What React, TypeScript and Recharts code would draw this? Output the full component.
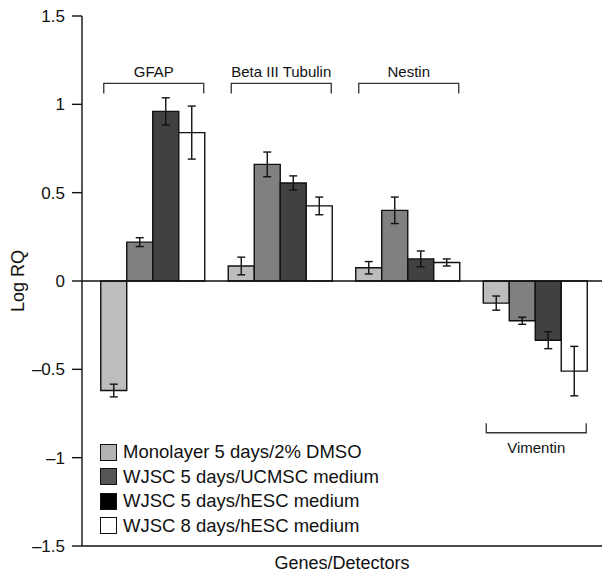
import {
  ComposedChart,
  Bar,
  ErrorBar,
  XAxis,
  YAxis,
  ReferenceLine,
  ReferenceArea,
} from "recharts";

const GENES = ["GFAP", "Beta III Tubulin", "Nestin", "Vimentin"];

const MONOLAYER = [-0.62, 0.085, 0.075, -0.125];
const MONOLAYER_ERR = [0.036, 0.05, 0.035, 0.04];
const WJSC_UCMSC_5 = [0.22, 0.66, 0.4, -0.225];
const WJSC_UCMSC_5_ERR = [0.025, 0.07, 0.075, 0.02];
const WJSC_HESC_5 = [0.96, 0.555, 0.125, -0.335];
const WJSC_HESC_5_ERR = [0.077, 0.04, 0.045, 0.048];
const WJSC_HESC_8 = [0.84, 0.425, 0.105, -0.51];
const WJSC_HESC_8_ERR = [0.15, 0.05, 0.02, 0.14];

const Y_TICKS = [-1.5, -1, -0.5, 0, 0.5, 1, 1.5];

// which side of the bars each gene bracket sits on
const BRACKETS = [
  { gene: "GFAP", side: "top" },
  { gene: "Beta III Tubulin", side: "top" },
  { gene: "Nestin", side: "top" },
  { gene: "Vimentin", side: "bottom" },
];

const SERIES = [
  { key: "s0", err: "e0", name: "Monolayer 5 days/2% DMSO", fill: "#bdbdbd", legend: "#b3b3b3" },
  { key: "s1", err: "e1", name: "WJSC 5 days/UCMSC medium", fill: "#808080", legend: "#555555" },
  { key: "s2", err: "e2", name: "WJSC 5 days/hESC medium", fill: "#414141", legend: "#000000" },
  { key: "s3", err: "e3", name: "WJSC 8 days/hESC medium", fill: "#ffffff", legend: "#ffffff" },
];

const data = GENES.map((gene, i) => ({
  gene,
  s0: MONOLAYER[i],
  e0: MONOLAYER_ERR[i],
  s1: WJSC_UCMSC_5[i],
  e1: WJSC_UCMSC_5_ERR[i],
  s2: WJSC_HESC_5[i],
  e2: WJSC_HESC_5_ERR[i],
  s3: WJSC_HESC_8[i],
  e3: WJSC_HESC_8_ERR[i],
}));

const FONT = "'Liberation Sans', Arial, Helvetica, sans-serif";

const fmtTick = (v: number) => (v < 0 ? `\u2013${Math.abs(v)}` : `${v}`);

function bracketShape(label: string, side: string) {
  return (props: any) => {
    const { x, y, width, height } = props;
    const x1 = x + width * 0.1 + 3;
    const x2 = x + width * 0.9 + 1;
    const cx = (x1 + x2) / 2;
    if (side === "top") {
      return (
        <g>
          <path
            d={`M${x1},${y + height} L${x1},${y} L${x2},${y} L${x2},${y + height}`}
            fill="none"
            stroke="#333"
            strokeWidth={1.3}
          />
          <text x={cx} y={y - 6.5} textAnchor="middle" fontSize={15} fill="#111" fontFamily={FONT}>
            {label}
          </text>
        </g>
      );
    }
    return (
      <g>
        <path
          d={`M${x1},${y} L${x1},${y + height} L${x2},${y + height} L${x2},${y}`}
          fill="none"
          stroke="#333"
          strokeWidth={1.3}
        />
        <text x={cx} y={y + height + 20} textAnchor="middle" fontSize={15} fill="#111" fontFamily={FONT}>
          {label}
        </text>
      </g>
    );
  };
}

function YLabel(props: any) {
  const { viewBox } = props;
  const cx = viewBox.x + 18;
  const cy = viewBox.y + viewBox.height / 2;
  return (
    <text
      x={cx}
      y={cy}
      transform={`rotate(-90, ${cx}, ${cy})`}
      textAnchor="middle"
      dominantBaseline="central"
      fontSize={18}
      fill="#111"
      fontFamily={FONT}
    >
      Log RQ
    </text>
  );
}

export default function App() {
  return (
    <div
      style={{
        position: "absolute",
        left: 0,
        top: 0,
        width: 602,
        height: 572,
        background: "#fff",
        fontFamily: FONT,
      }}
    >
      <ComposedChart
        width={602}
        height={572}
        data={data}
        margin={{ top: 16, right: 0, bottom: 0, left: 0 }}
        barCategoryGap="10%"
        barGap={0}
      >
        <XAxis
          dataKey="gene"
          tick={false}
          tickLine={false}
          axisLine={{ stroke: "#111", strokeWidth: 1.4 }}
          height={26}
          padding={{ left: 6, right: 4 }}
          label={{
            value: "Genes/Detectors",
            position: "insideBottom",
            offset: 3,
            fontSize: 18,
            fill: "#111",
            fontFamily: FONT,
          }}
        />
        <YAxis
          width={82}
          domain={[-1.5, 1.5]}
          ticks={Y_TICKS}
          tickFormatter={fmtTick}
          tick={{ fontSize: 17, fill: "#111", fontFamily: FONT }}
          tickSize={10}
          tickMargin={7}
          tickLine={{ stroke: "#111", strokeWidth: 1.4 }}
          axisLine={{ stroke: "#111", strokeWidth: 1.4 }}
          label={<YLabel />}
        />
        <ReferenceLine y={0} stroke="#111" strokeWidth={1.4} />
        {SERIES.map((s) => (
          <Bar
            key={s.key}
            dataKey={s.key}
            name={s.name}
            fill={s.fill}
            stroke="#111"
            strokeWidth={1.4}
            isAnimationActive={false}
          >
            <ErrorBar
              dataKey={s.err}
              direction="y"
              width={4}
              stroke="#111"
              strokeWidth={1.4}
              isAnimationActive={false}
            />
          </Bar>
        ))}
        {BRACKETS.map((b) => (
          <ReferenceArea
            key={b.gene}
            x1={b.gene}
            x2={b.gene}
            y1={b.side === "top" ? 1.062 : -0.859}
            y2={b.side === "top" ? 1.119 : -0.805}
            shape={bracketShape(b.gene, b.side)}
          />
        ))}
      </ComposedChart>
      <div
        style={{
          position: "absolute",
          left: 100,
          top: 440,
          fontSize: 18.5,
          color: "#111",
          lineHeight: "24.5px",
        }}
      >
        {SERIES.map((s) => (
          <div key={s.key} style={{ display: "flex", alignItems: "center", height: 24.5 }}>
            <span
              style={{
                display: "inline-block",
                width: 15,
                height: 15,
                border: "1px solid #111",
                background: s.legend,
                marginRight: 6,
              }}
            />
            <span>{s.name}</span>
          </div>
        ))}
      </div>
    </div>
  );
}
